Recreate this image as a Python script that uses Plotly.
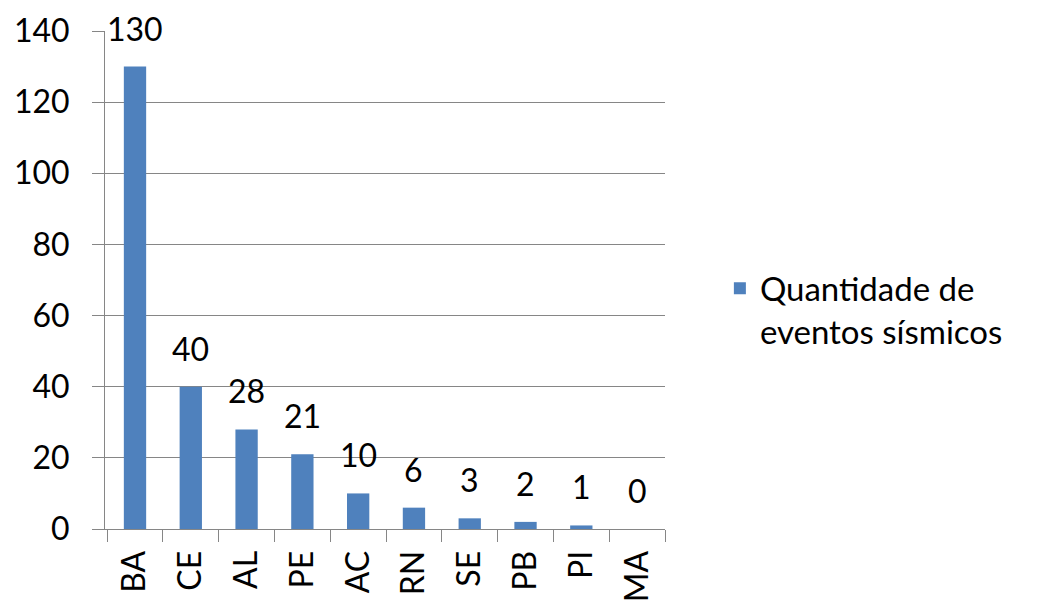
import plotly.graph_objects as go

categories = ["BA", "CE", "AL", "PE", "AC", "RN", "SE", "PB", "PI", "MA"]
values = [130, 40, 28, 21, 10, 6, 3, 2, 1, 0]
series_name = "Quantidade de<br>eventos sísmicos"
y_ticks = [0, 20, 40, 60, 80, 100, 120, 140]

FONT = "Lato"
bar_color = "#4F81BD"
axis_color = "#868686"

fig = go.Figure()
fig.add_trace(go.Bar(
    x=categories, y=values, name=series_name,
    marker=dict(color=bar_color, line=dict(width=0)),
    showlegend=True,
))

for c, v in zip(categories, values):
    fig.add_annotation(x=c, y=v, text=str(v), showarrow=False,
                       yanchor="bottom", yshift=17,
                       font=dict(family=FONT, size=32, color="#000000"))

fig.update_layout(
    width=1029, height=599,
    margin=dict(l=97, r=372, t=23, b=78, autoexpand=False),
    paper_bgcolor="white", plot_bgcolor="white",
    bargap=0.6,
    font=dict(family=FONT, size=32, color="#000000"),
    showlegend=True,
    legend=dict(x=1.098, xanchor="left", y=0.44, yanchor="middle", valign="top",
                font=dict(family=FONT, size=33, color="#000000"),
                itemwidth=30, bgcolor="rgba(0,0,0,0)"),
)
fig.update_yaxes(range=[0, 140], tickvals=y_ticks, showgrid=True, gridcolor=axis_color,
                 gridwidth=1, showline=True, linecolor=axis_color, linewidth=1,
                 ticks="outside", ticklen=12, tickcolor=axis_color, zeroline=False,
                 automargin=False, ticklabelstandoff=16,
                 tickfont=dict(family=FONT, size=32, color="#000000"))
fig.update_xaxes(showline=True, linecolor=axis_color, linewidth=1, ticks="outside",
                 tickson="boundaries", ticklen=12, tickcolor=axis_color,
                 tickangle=-90, showgrid=False, automargin=False, ticklabelstandoff=8,
                 tickfont=dict(family=FONT, size=32, color="#000000"))

fig.write_html("out.html")
